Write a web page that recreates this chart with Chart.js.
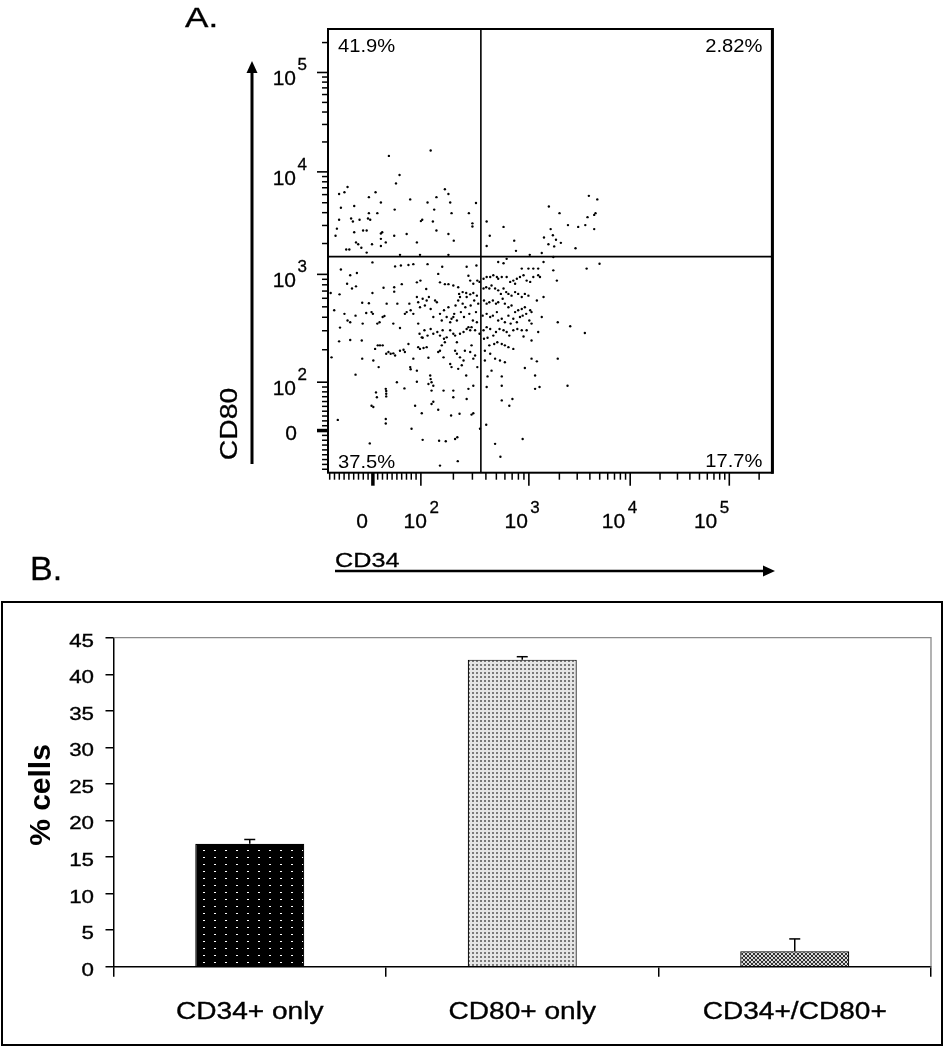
<!DOCTYPE html>
<html>
<head>
<meta charset="utf-8">
<script src="https://cdn.jsdelivr.net/npm/chart.js@4.4.0/dist/chart.umd.min.js"></script>
<style>
html,body{margin:0;padding:0;background:#fff;}
#wrap{position:relative;width:946px;height:1050px;overflow:hidden;background:#fff;}
canvas{position:absolute;left:0;top:0;}
#boxB{position:absolute;left:1px;top:601px;width:938px;height:441px;border:2px solid #000;}
</style>
</head>
<body>
<div id="wrap">
<div id="boxB"></div>
<canvas id="cA" width="946" height="1050"></canvas>
<canvas id="cB" width="946" height="1050"></canvas>
</div>
<script>
// ---------------- Panel A data (display channels 0-1000 on each axis) ----------------
const upperLeft = [[137,714],[231,726],[161,671],[153,652],[25,628],[37,632],[44,644],[92,621],[107,632],[119,609],[185,616],[224,609],[244,621],[263,639],[271,628],[275,609],[333,608],[29,597],[59,601],[150,593],[239,593],[92,585],[111,585],[278,585],[317,585],[25,570],[52,573],[56,566],[71,570],[90,573],[95,570],[209,567],[212,570],[236,566],[325,562],[325,555],[20,550],[59,542],[79,546],[87,546],[122,542],[119,539],[149,534],[177,538],[244,546],[271,538],[41,503],[48,503],[63,519],[68,515],[75,507],[87,496],[99,515],[119,527],[119,511],[130,519],[200,519],[283,523],[17,534],[162,491],[207,491],[271,491]];
const upperRight = [[357,566],[364,534],[395,554],[419,523],[423,500],[357,511],[454,491],[481,495],[486,530],[497,600],[501,549],[506,535],[496,515],[509,510],[513,525],[521,585],[524,518],[540,558],[557,506],[563,554],[579,558],[584,576],[587,624],[599,581],[602,585],[599,549],[606,616]];
const lowerLeft = [[29,458],[50,445],[65,450],[100,474],[151,465],[164,467],[181,468],[192,470],[224,470],[257,464],[312,464],[334,467],[6,405],[26,402],[43,426],[54,415],[63,420],[100,405],[125,417],[149,418],[149,408],[166,425],[200,429],[208,433],[221,414],[248,448],[252,429],[263,425],[271,425],[282,422],[293,418],[316,444],[320,433],[327,426],[336,433],[341,430],[295,403],[303,407],[311,405],[320,402],[327,405],[335,399],
[14,366],[27,327],[37,358],[44,343],[50,339],[62,354],[77,383],[78,336],[86,360],[92,382],[98,362],[101,358],[111,336],[116,339],[123,351],[127,353],[132,381],[147,336],[156,381],[162,326],[173,358],[177,362],[183,381],[186,366],[192,358],[200,396],[203,384],[207,373],[213,392],[218,377],[222,388],[227,396],[231,369],[237,351],[241,388],[245,384],[252,358],[256,343],[258,321],[261,366],[267,351],[271,373],[275,339],[278,347],[282,351],[284,358],[287,377],[290,343],[293,388],[297,396],[299,362],[303,381],[306,351],[309,373],[312,396],[316,328],[318,358],[321,377],[326,343],[329,388],[331,321],[333,362],[335,339],[338,381],[341,313],
[203,336],[206,313],[211,305],[217,321],[224,309],[231,324],[237,313],[246,317],[252,309],[261,302],[267,305],[275,321],[282,313],[286,309],[290,294],[297,313],[305,317],[312,324],[320,321],[323,328],
[8,260],[25,296],[50,299],[62,221],[76,298],[77,257],[102,253],[106,279],[112,287],[117,287],[123,287],[131,268],[136,272],[141,268],[147,269],[151,264],[155,204],[162,275],[170,277],[173,272],[181,290],[185,238],[186,233],[192,257],[200,230],[203,283],[207,279],[213,304],[215,281],[222,283],[226,259],[230,219],[231,211],[233,204],[237,196],[248,272],[252,275],[256,287],[260,260],[263,294],[275,245],[278,238],[286,275],[290,268],[293,234],[297,260],[301,242],[305,253],[308,275],[311,219],[320,272],[323,287],[327,257],[331,264],[336,238],
[22,119],[98,151],[102,148],[108,181],[110,170],[114,238],[130,189],[131,184],[131,178],[131,172],[130,121],[130,111],[172,190],[188,99],[196,151],[200,205],[211,134],[213,74],[226,200],[233,155],[237,160],[233,185],[248,142],[250,72],[260,185],[265,71],[277,129],[282,185],[282,170],[286,76],[291,80],[292,26],[296,133],[312,166],[316,189],[323,131],[327,134],[327,196],[94,66],[252,16],[342,99]];
const lowerRight = [[383,475],[395,472],[402,482],[436,460],[451,460],[462,460],[473,460],[485,475],[507,456],[507,486],[515,433],[582,460],[611,471],
[350,437],[357,441],[365,441],[372,445],[380,441],[383,437],[391,441],[402,441],[410,430],[417,433],[421,426],[425,437],[432,441],[440,445],[447,433],[455,430],[462,441],[473,445],[477,441],
[350,415],[356,418],[363,415],[368,422],[376,415],[383,411],[389,403],[395,415],[401,407],[406,403],[413,399],[421,407],[428,403],[436,396],[443,403],[451,399],[470,388],[485,396],
[351,388],[357,381],[363,384],[371,388],[378,381],[383,384],[393,392],[398,381],[406,373],[413,377],[421,362],[428,366],[436,369],[443,373],[455,366],[458,362],
[348,354],[357,358],[365,351],[371,354],[380,362],[383,343],[391,347],[398,339],[406,354],[411,336],[417,347],[425,339],[432,351],[438,354],[446,358],[453,343],[458,336],[481,351],
[350,321],[357,328],[365,324],[372,309],[378,317],[386,324],[395,321],[402,317],[408,309],[417,321],[426,324],[436,321],[440,307],[447,321],[458,298],[473,317],[517,339],[545,330],[578,315],
[351,302],[359,304],[363,287],[374,290],[381,294],[391,290],[398,287],[406,283],[417,279],[353,275],[365,268],[376,257],[387,253],[398,249],[458,257],[470,251],[517,257],
[353,253],[368,230],[359,217],[391,217],[443,236],[466,219],[357,193],[391,196],[466,189],[476,193],[539,196],[391,163],[408,151],[415,166],[356,108],[376,65],[438,76],[388,36]];

const gateCD34 = 344;          // vertical quadrant gate (channel)
const gateCD80 = 487;          // horizontal quadrant gate (channel)
const quadrantPercents = ['41.9%', '2.82%', '37.5%', '17.7%']; // UL, UR, LL, LR
const cd34DecadeChannels = [101, 209, 452, 680, 903]; // 0, 10^2, 10^3, 10^4, 10^5
const cd80DecadeChannels = [95, 204, 447, 678, 902];
const decadeExponents = ['', '2', '3', '4', '5'];
const cd34LabelShift = [-5, 6, -1, -5, -12];

// ---------------- Panel B data ----------------
const categories = ['CD34+ only', 'CD80+ only', 'CD34+/CD80+'];
const meanPercent = [16.8, 42.0, 2.1];
const errorPercent = [0.6, 0.4, 1.7];

const FONT = '"Liberation Sans", Arial, sans-serif';
function txt(ctx, s, x, y, size, o) {
  o = o || {};
  ctx.save();
  ctx.translate(x, y);
  if (o.rot) ctx.rotate(o.rot);
  ctx.scale(o.sx || 1, 1);
  ctx.font = (o.bold ? 'bold ' : '') + size + 'px ' + FONT;
  ctx.fillStyle = '#000';
  ctx.textAlign = o.align || 'left';
  ctx.textBaseline = 'alphabetic';
  ctx.fillText(s, 0, 0);
  if (o.heavy) { ctx.strokeStyle = '#000'; ctx.lineWidth = o.heavy; ctx.strokeText(s, 0, 0); }
  ctx.restore();
}
function seg(ctx, x1, y1, x2, y2) { ctx.beginPath(); ctx.moveTo(x1, y1); ctx.lineTo(x2, y2); ctx.stroke(); }
function minorChannels(dec) {
  const out = [];
  const perUnit = (dec[1] - dec[0]) / 100;
  for (let v = -90; v < 100; v += 10) if (v !== 0) out.push(dec[0] + v * perUnit);
  for (let d = 1; d < 4; d++) for (let k = 2; k < 10; k++) out.push(dec[d] + (dec[d + 1] - dec[d]) * Math.log10(k));
  const w = dec[4] - dec[3];
  for (let k = 2; k < 10; k++) out.push(dec[4] + w * Math.log10(k));
  return out.filter(c => c > 0 && c < 1000);
}
const toPts = arr => arr.map(p => ({x: p[0], y: p[1]}));

const flowPlugin = {
  id: 'flowAxes',
  beforeDatasetsDraw(chart) {
    const {ctx, chartArea: a, scales: {x, y}} = chart;
    ctx.save();
    ctx.strokeStyle = '#000';
    ctx.lineWidth = 1.6;
    const gx = x.getPixelForValue(gateCD34), gy = y.getPixelForValue(gateCD80);
    seg(ctx, gx, a.top, gx, a.bottom);
    seg(ctx, a.left, gy, a.right, gy);
    ctx.restore();
  },
  afterDraw(chart) {
    const {ctx, chartArea: a, scales: {x, y}} = chart;
    ctx.save();
    ctx.strokeStyle = '#000';
    ctx.lineWidth = 2;
    ctx.strokeRect(a.left, a.top, a.right - a.left, a.bottom - a.top);
    ctx.lineWidth = 3;
    seg(ctx, a.right, a.top - 1, a.right, a.bottom + 1);
    ctx.lineWidth = 1.5;
    minorChannels(cd34DecadeChannels).forEach(c => { const px = x.getPixelForValue(c); seg(ctx, px, a.bottom, px, a.bottom + 7); });
    cd34DecadeChannels.forEach((c, i) => { const px = x.getPixelForValue(c); ctx.lineWidth = i === 0 ? 3.5 : 1.6; seg(ctx, px, a.bottom, px, a.bottom + 13); });
    ctx.lineWidth = 1.5;
    minorChannels(cd80DecadeChannels).forEach(c => { const py = y.getPixelForValue(c); seg(ctx, a.left - 6, py, a.left, py); });
    cd80DecadeChannels.forEach((c, i) => { const py = y.getPixelForValue(c); ctx.lineWidth = i === 0 ? 3.5 : 1.6; seg(ctx, a.left - 11, py, a.left, py); });
    cd34DecadeChannels.forEach((c, i) => {
      const px = x.getPixelForValue(c) + cd34LabelShift[i];
      if (!decadeExponents[i]) txt(ctx, '0', px, a.bottom + 55, 21, {align: 'right', heavy: 0.3});
      else { txt(ctx, '10', px, a.bottom + 55, 21, {align: 'right', heavy: 0.3}); txt(ctx, decadeExponents[i], px + 2.5, a.bottom + 40, 17, {heavy: 0.3}); }
    });
    cd80DecadeChannels.forEach((c, i) => {
      const py = y.getPixelForValue(c);
      if (!decadeExponents[i]) txt(ctx, '0', a.left - 31, py + 9, 21, {align: 'right', heavy: 0.3});
      else { txt(ctx, '10', a.left - 32, py + 13, 21, {align: 'right', heavy: 0.3}); txt(ctx, decadeExponents[i], a.left - 30.5, py - 2, 17, {heavy: 0.3}); }
    });
    txt(ctx, quadrantPercents[0], a.left + 10, a.top + 23, 18, {sx: 1.12});
    txt(ctx, quadrantPercents[1], a.right - 10, a.top + 23, 18, {sx: 1.12, align: 'right'});
    txt(ctx, quadrantPercents[2], a.left + 10, a.bottom - 5, 18, {sx: 1.12});
    txt(ctx, quadrantPercents[3], a.right - 10, a.bottom - 6, 18, {sx: 1.12, align: 'right'});
    ctx.fillStyle = '#000';
    ctx.lineWidth = 3;
    seg(ctx, 252, 464, 252, 70);
    ctx.beginPath(); ctx.moveTo(246.5, 73); ctx.lineTo(257.5, 73); ctx.lineTo(252, 61); ctx.closePath(); ctx.fill();
    ctx.lineWidth = 2.5;
    seg(ctx, 335, 571, 765, 571);
    ctx.beginPath(); ctx.moveTo(763, 565.5); ctx.lineTo(763, 576.5); ctx.lineTo(775, 571); ctx.closePath(); ctx.fill();
    txt(ctx, 'CD80', 237, 424, 24, {rot: -Math.PI / 2, sx: 1.18, align: 'center', heavy: 0.3});
    txt(ctx, 'CD34', 335, 566.5, 21, {sx: 1.2, heavy: 0.3});
    txt(ctx, 'A.', 185, 27, 27, {sx: 1.3, heavy: 0.3});
    ctx.restore();
  }
};

new Chart(document.getElementById('cA'), {
  type: 'scatter',
  data: {
    datasets: [upperLeft, upperRight, lowerLeft, lowerRight].map(d => ({
      data: toPts(d), pointRadius: 1.2, pointBackgroundColor: '#000', pointBorderWidth: 0
    }))
  },
  options: {
    responsive: false, animation: false, devicePixelRatio: 1,
    layout: {padding: {left: 328, top: 29, right: 173.6, bottom: 577.3}},
    plugins: {legend: {display: false}, tooltip: {enabled: false}},
    scales: {
      x: {type: 'linear', display: false, min: 0, max: 1000},
      y: {type: 'linear', display: false, min: 0, max: 1000}
    }
  },
  plugins: [flowPlugin]
});

// ---------------- Panel B ----------------
const cB = document.getElementById('cB');
const gB = cB.getContext('2d');
function makePattern(w, h, bg, fg, rects) {
  const c = document.createElement('canvas'); c.width = w; c.height = h;
  const g = c.getContext('2d');
  g.fillStyle = bg; g.fillRect(0, 0, w, h);
  g.fillStyle = fg; rects.forEach(r => g.fillRect(r[0], r[1], r[2], r[3]));
  return gB.createPattern(c, 'repeat');
}
const patDark = makePattern(11, 7, '#000', '#fff', [[5, 3, 2, 1]]);
const patLight = makePattern(4, 4, '#e6e6e6', '#7a7a7a', [[0, 0, 2, 2]]);
const patHatch = makePattern(4, 4, '#dadada', '#303030', [[0,0,1,1],[1,1,1,1],[2,2,1,1],[3,3,1,1],[3,0,1,1],[2,1,1,1],[1,2,1,1],[0,3,1,1]]);

const barPlugin = {
  id: 'barDecor',
  beforeDatasetsDraw(chart) {
    const {ctx, chartArea: a} = chart;
    ctx.save();
    ctx.strokeStyle = '#8a8a8a'; ctx.lineWidth = 1.3;
    ctx.beginPath(); ctx.moveTo(a.left, a.top); ctx.lineTo(a.right, a.top); ctx.lineTo(a.right, a.bottom); ctx.stroke();
    ctx.restore();
  },
  afterDatasetsDraw(chart) {
    const {ctx, scales: {y}} = chart;
    const meta = chart.getDatasetMeta(0);
    ctx.save();
    ctx.strokeStyle = '#000'; ctx.lineWidth = 1.5;
    meta.data.forEach((el, i) => {
      const top = y.getPixelForValue(meanPercent[i] + errorPercent[i]);
      seg(ctx, el.x, el.y, el.x, top);
      seg(ctx, el.x - 5.5, top, el.x + 5.5, top);
    });
    ctx.restore();
  },
  afterDraw(chart) {
    const {ctx, chartArea: a, scales: {x, y}} = chart;
    y.ticks.forEach(t => txt(ctx, String(t.value), a.left - 19.5, y.getPixelForValue(t.value) + 9, 18, {align: 'right', sx: 1.24, heavy: 0.35}));
    categories.forEach((c, i) => txt(ctx, c, x.getPixelForValue(i), a.bottom + 52, 23, {align: 'center', sx: 1.22, heavy: 0.35}));
    txt(ctx, '% cells', 50, 795, 30, {rot: -Math.PI / 2, bold: true, align: 'center'});
    txt(ctx, 'B.', 30, 580, 34, {heavy: 0.3});
  }
};

new Chart(cB, {
  type: 'bar',
  data: {
    labels: categories,
    datasets: [{
      data: meanPercent,
      backgroundColor: [patDark, patLight, patHatch],
      borderColor: '#000', borderWidth: 1.2,
      categoryPercentage: 1.0, barPercentage: 0.4
    }]
  },
  options: {
    responsive: false, animation: false, devicePixelRatio: 1,
    layout: {padding: {left: 113.5, top: 637.7, right: 15, bottom: 83.3}},
    plugins: {legend: {display: false}, tooltip: {enabled: false}},
    scales: {
      x: {
        grid: {offset: true, drawOnChartArea: false, tickLength: 10, color: '#000', lineWidth: 1.5},
        border: {color: '#000', width: 1.5},
        ticks: {display: false},
        afterFit: s => { s.height = 0; }
      },
      y: {
        min: 0, max: 45,
        ticks: {stepSize: 5, display: false},
        grid: {drawOnChartArea: false, tickLength: 8, color: '#000', lineWidth: 1.5},
        border: {color: '#000', width: 1.5},
        afterFit: s => { s.width = 0; }
      }
    }
  },
  plugins: [barPlugin]
});
</script>
</body>
</html>
